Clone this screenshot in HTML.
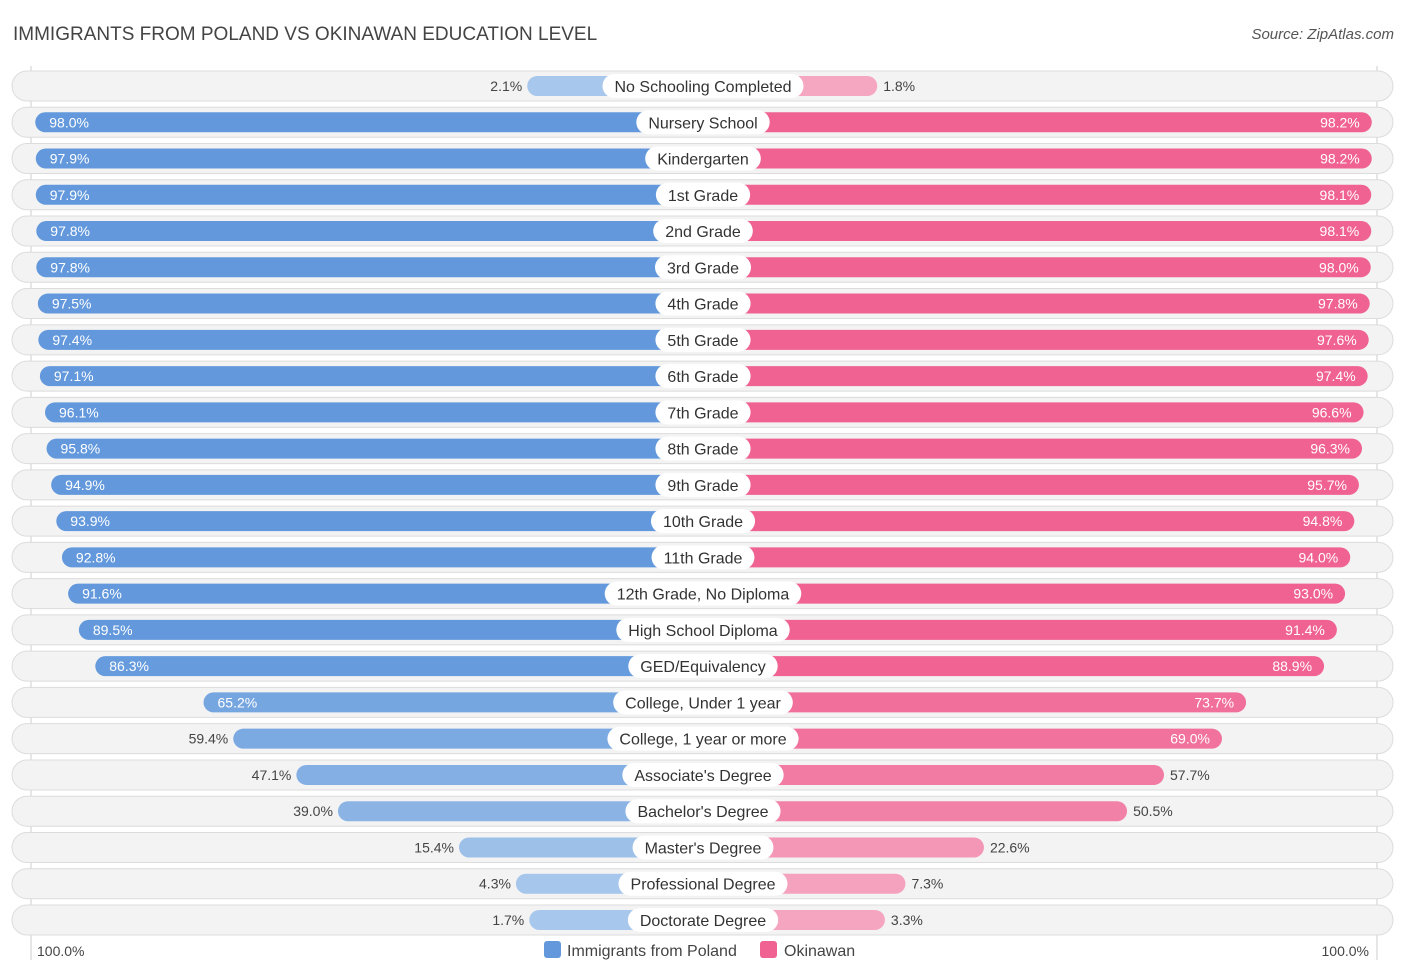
<!DOCTYPE html>
<html><head><meta charset="utf-8"><style>
body{margin:0;background:#fff;font-family:"Liberation Sans",sans-serif}
svg text{font-family:"Liberation Sans",sans-serif}
</style></head><body>
<svg id="c" width="1406" height="975" xmlns="http://www.w3.org/2000/svg">
<text x="13" y="40" font-size="19" fill="#444">IMMIGRANTS FROM POLAND VS OKINAWAN EDUCATION LEVEL</text>
<text x="1394" y="39" font-size="15" fill="#555" font-style="italic" text-anchor="end">Source: ZipAtlas.com</text>
<line x1="31" y1="66" x2="31" y2="960" stroke="#ccc"/>
<line x1="1377" y1="66" x2="1377" y2="960" stroke="#ccc"/>
<g id="rows"></g>
<text x="37" y="956" font-size="14" fill="#444">100.0%</text>
<text x="1369" y="956" font-size="14" fill="#444" text-anchor="end">100.0%</text>
<rect x="544" y="941" width="17" height="17" rx="3" fill="#6399dc"/>
<text x="567" y="956" font-size="16" fill="#444">Immigrants from Poland</text>
<rect x="760" y="941" width="17" height="17" rx="3" fill="#f06292"/>
<text x="784" y="956" font-size="16" fill="#444">Okinawan</text>
</svg>
<script>
const categories=["No Schooling Completed","Nursery School","Kindergarten","1st Grade","2nd Grade","3rd Grade","4th Grade","5th Grade","6th Grade","7th Grade","8th Grade","9th Grade","10th Grade","11th Grade","12th Grade, No Diploma","High School Diploma","GED/Equivalency","College, Under 1 year","College, 1 year or more","Associate's Degree","Bachelor's Degree","Master's Degree","Professional Degree","Doctorate Degree"];
const polandValues=[2.1,98.0,97.9,97.9,97.8,97.8,97.5,97.4,97.1,96.1,95.8,94.9,93.9,92.8,91.6,89.5,86.3,65.2,59.4,47.1,39.0,15.4,4.3,1.7];
const okinawanValues=[1.8,98.2,98.2,98.1,98.1,98.0,97.8,97.6,97.4,96.6,96.3,95.7,94.8,94.0,93.0,91.4,88.9,73.7,69.0,57.7,50.5,22.6,7.3,3.3];
const NS="http://www.w3.org/2000/svg";
const cx=703,y0=86,dy=36.26;
function len(v){return 165+5.13*v;}
function yPos(i){return y0+i*dy;}
function mix(a,b,t){return "rgb("+a.map((x,k)=>Math.round(x+(b[k]-x)*t)).join(",")+")";}
function blue(v){return mix([169,200,236],[99,153,220],Math.min(1,v/90));}
function pink(v){return mix([245,168,194],[240,98,146],Math.min(1,v/90));}
const g=document.getElementById('rows');
function mk(tag,attrs){const e=document.createElementNS(NS,tag);for(const k in attrs)e.setAttribute(k,attrs[k]);return e;}
categories.forEach((cat,i)=>{
  const y=yPos(i);
  const bg=mk('rect',{x:12,y:y-15,width:1381,height:30,rx:15,fill:'#f3f3f3',stroke:'#dcdcdc'});
  
  
  g.appendChild(bg);
  const pv=polandValues[i],ov=okinawanValues[i];
  const lw=len(pv),rw=len(ov);
  const lb=mk('rect',{x:cx-lw,y:y-10,width:lw,height:20,rx:10,fill:blue(pv)});
  
  
  g.appendChild(lb);
  const rb=mk('rect',{x:cx,y:y-10,width:rw,height:20,rx:10,fill:pink(ov)});
  
  
  g.appendChild(rb);
  const lt=mk('text',{y:y+5,'font-size':14});
  if(pv>62){lt.setAttribute('x',cx-lw+14);lt.setAttribute('fill','#fff');}
  else{lt.setAttribute('x',cx-lw-5);lt.setAttribute('text-anchor','end');lt.setAttribute('fill','#444');}
  lt.textContent=pv.toFixed(1)+"%";
  
  
  g.appendChild(lt);
  const rt=mk('text',{y:y+5,'font-size':14});
  if(ov>62){rt.setAttribute('x',cx+rw-12);rt.setAttribute('text-anchor','end');rt.setAttribute('fill','#fff');}
  else{rt.setAttribute('x',cx+rw+6);rt.setAttribute('fill','#444');}
  rt.textContent=ov.toFixed(1)+"%";
  
  
  g.appendChild(rt);
  const t=mk('text',{x:cx,y:y+6,'font-size':16,fill:'#333','text-anchor':'middle'});
  t.textContent=cat;
  g.appendChild(t);
  const w=t.getComputedTextLength()+24;
  const pill=mk('rect',{x:cx-w/2,y:y-12,width:w,height:24,rx:12,fill:'#fff'});
  
  
  g.insertBefore(pill,t);
  
  
});
</script>
</body></html>
